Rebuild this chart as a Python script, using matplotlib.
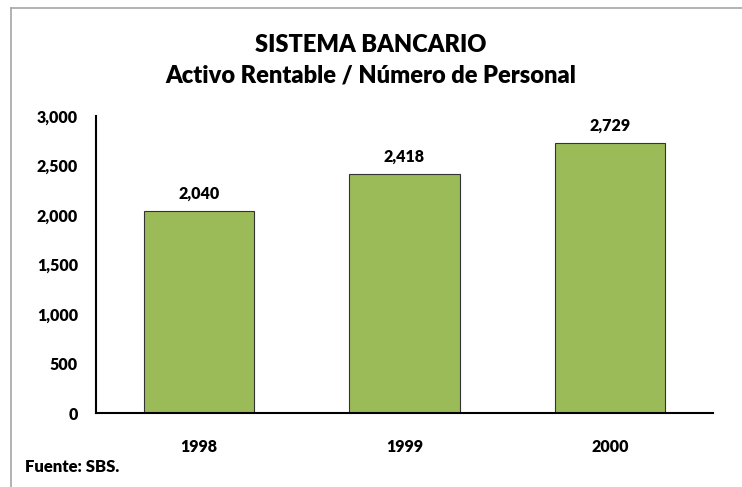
import matplotlib.pyplot as plt
from matplotlib.lines import Line2D

years = ['1998', '1999', '2000']
ratio = [2040, 2418, 2729]
y_ticks = [0, 500, 1000, 1500, 2000, 2500, 3000]

plt.rcParams['font.family'] = ['Lato', 'DejaVu Sans']
W = 'heavy'

fig = plt.figure(figsize=(7.42, 4.87), dpi=100)
ax = fig.add_axes([96 / 742, 1 - 413 / 487, (713 - 96) / 742, (413 - 116) / 487])

x = range(len(years))
bars = ax.bar(x, ratio, width=0.535, color='#9BBB59', edgecolor='#333333', linewidth=0.8)
for b, v in zip(bars, ratio):
    ax.text(b.get_x() + b.get_width() / 2, v + 95, f'{v:,}', ha='center', va='bottom',
            fontsize=11.5, fontweight=W)

ax.set_xlim(-0.5, 2.5)
ax.set_ylim(0, 3000)
ax.set_xticks(list(x))
ax.set_xticklabels(years)
ax.set_yticks(y_ticks)
ax.set_yticklabels([f'{t:,}' for t in y_ticks])
ax.tick_params(axis='both', length=0, labelsize=11.5)
ax.tick_params(axis='y', pad=13)
ax.tick_params(axis='x', pad=19)
for lab in ax.get_xticklabels() + ax.get_yticklabels():
    lab.set_fontweight(W)
ax.spines['top'].set_visible(False)
ax.spines['right'].set_visible(False)
ax.spines['left'].set_linewidth(1.5)
ax.spines['bottom'].set_linewidth(1.5)

fig.text(0.5, 1 - 45 / 487, 'SISTEMA BANCARIO', ha='center', va='center',
         fontsize=17, fontweight=W)
fig.text(0.5, 1 - 76 / 487, 'Activo Rentable / Número de Personal', ha='center', va='center',
         fontsize=17, fontweight=W)
fig.text(25 / 742, 1 - 467 / 487, 'Fuente: SBS.', ha='left', va='center',
         fontsize=12, fontweight=W)

# chart area border (only top and left visible in the crop)
fig.add_artist(Line2D([10.5 / 742, 10.5 / 742], [0, 1 - 7.5 / 487], transform=fig.transFigure,
                      color='#a6a6a6', linewidth=1.2))
fig.add_artist(Line2D([10.5 / 742, 1], [1 - 7.5 / 487, 1 - 7.5 / 487], transform=fig.transFigure,
                      color='#a6a6a6', linewidth=1.2))

fig.savefig('out.png', dpi=100)
